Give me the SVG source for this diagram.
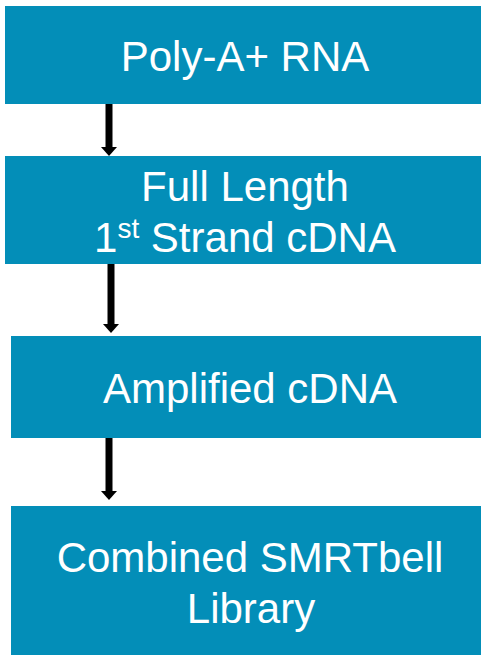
<svg xmlns="http://www.w3.org/2000/svg" width="481" height="655" viewBox="0 0 481 655">
<style>
.box{fill:#038EB8}
.t{font-family:"Liberation Sans",Arial,sans-serif;font-size:42px;fill:#fff;text-anchor:middle}
.arr{stroke:#000;stroke-width:7;fill:none;marker-end:url(#ah)}
</style>
<defs>
<marker id="ah" markerUnits="userSpaceOnUse" markerWidth="9" markerHeight="16" refX="0" refY="8" orient="auto" viewBox="0 0 9 16">
<path d="M0,0 L9,8 L0,16 Z" fill="#000"/>
</marker>
</defs>
<rect width="481" height="655" fill="#fff"/>
<g id="connectors">
<line class="arr" x1="109" y1="104" x2="109" y2="147"/>
<line class="arr" x1="111" y1="264" x2="111" y2="324"/>
<line class="arr" x1="109" y1="438" x2="109" y2="491"/>
</g>
<g id="n1">
<rect class="box" x="5" y="6" width="476" height="98"/>
<text class="t" x="245" y="71">Poly-A+ RNA</text>
</g>
<g id="n2">
<rect class="box" x="5" y="156" width="476" height="108"/>
<text class="t" x="245" y="201">Full Length</text>
<text class="t" x="245" y="252">1<tspan font-size="28" dy="-14">st</tspan><tspan dy="14"> Strand cDNA</tspan></text>
</g>
<g id="n3">
<rect class="box" x="11" y="336" width="470" height="102"/>
<text class="t" x="250" y="403">Amplified cDNA</text>
</g>
<g id="n4">
<rect class="box" x="11" y="506" width="470" height="149"/>
<text class="t" x="250" y="572">Combined SMRTbell</text>
<text class="t" x="251" y="623">Library</text>
</g>
</svg>
